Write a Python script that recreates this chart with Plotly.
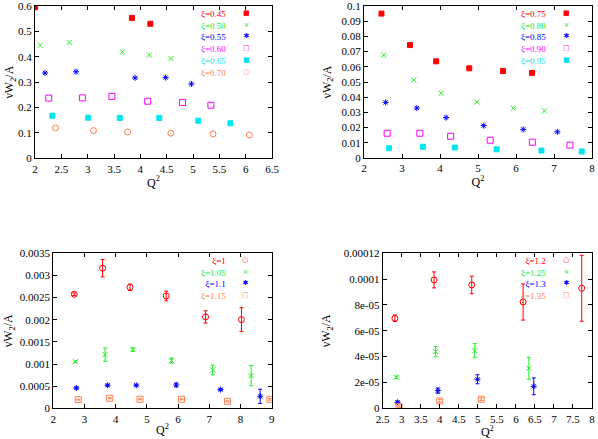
import plotly.graph_objects as go

W, H = 598, 439

# ---------------- data ----------------
# Panel 1 (top-left)
p1_labels = ["ξ=0.45", "ξ=0.50", "ξ=0.55", "ξ=0.60", "ξ=0.65", "ξ=0.70"]
p1_q2 = [
    [2.00, 3.84, 4.19],
    [2.10, 2.65, 3.66, 4.17, 4.58],
    [2.19, 2.78, 3.90, 4.48, 4.97],
    [2.26, 2.90, 3.46, 4.14, 4.80, 5.34],
    [2.33, 3.01, 3.61, 4.36, 5.10, 5.71],
    [2.39, 3.11, 3.76, 4.58, 5.38, 6.07],
]
p1_val = [
    [0.595, 0.553, 0.530],
    [0.445, 0.456, 0.420, 0.407, 0.393],
    [0.336, 0.341, 0.317, 0.318, 0.293],
    [0.237, 0.238, 0.244, 0.225, 0.220, 0.209],
    [0.168, 0.160, 0.159, 0.159, 0.148, 0.138],
    [0.120, 0.109, 0.104, 0.099, 0.096, 0.092],
]

# Panel 2 (top-right)
p2_labels = ["ξ=0.75", "ξ=0.80", "ξ=0.85", "ξ=0.90", "ξ=0.95"]
p2_q2 = [
    [2.46, 3.21, 3.90, 4.77, 5.66, 6.42],
    [2.52, 3.31, 4.03, 4.97, 5.93, 6.75],
    [2.57, 3.39, 4.16, 5.15, 6.19, 7.09],
    [2.61, 3.47, 4.28, 5.32, 6.43, 7.42],
    [2.66, 3.55, 4.39, 5.49, 6.67, 7.73],
]
p2_val = [
    [0.0950, 0.0743, 0.0636, 0.0590, 0.0572, 0.0560],
    [0.0677, 0.0513, 0.0426, 0.0368, 0.0327, 0.0311],
    [0.0366, 0.0328, 0.0266, 0.0213, 0.0188, 0.0172],
    [0.0163, 0.0163, 0.0143, 0.0117, 0.0104, 0.0085],
    [0.0064, 0.0074, 0.0069, 0.0057, 0.0049, 0.0043],
]

# Panel 3 (bottom-left)
p3_labels = ["ξ=1", "ξ=1.05", "ξ=1.1", "ξ=1.15"]
p3_q2 = [
    [2.67, 3.58, 4.46, 5.62, 6.88, 8.03],
    [2.71, 3.66, 4.55, 5.79, 7.11, 8.34],
    [2.74, 3.74, 4.66, 5.94, 7.36, 8.63],
    [2.80, 3.81, 4.78, 6.11, 7.58, 8.94],
]
p3_val = [
    [0.002575, 0.003163, 0.002733, 0.002537, 0.002063, 0.002003],
    [0.001054, 0.001212, 0.001325, 0.001077, 0.000866, 0.000738],
    [0.000459, 0.000520, 0.000520, 0.000527, 0.000422, 0.000271],
    [0.000196, 0.000226, 0.000203, 0.000203, 0.000158, 0.000203],
]
p3_err = [
    [0.00003, 0.000196, 0.00007, 0.00011, 0.00014, 0.00027],
    [0.00002, 0.00015, 0.00004, 0.00006, 0.00011, 0.00023],
    [0.00002, 0.00002, 0.00002, 0.00004, 0.00002, 0.00016],
    [0.00001, 0.00001, 0.00001, 0.00001, 0.00001, 0.00002],
]

# Panel 4 (bottom-right)
p4_labels = ["ξ=1.2", "ξ=1.25", "ξ=1.3", "ξ=1.35"]
p4_q2 = [
    [2.82, 3.85, 4.84, 6.19, 7.73],
    [2.86, 3.89, 4.92, 6.34],
    [2.89, 3.95, 4.99, 6.47],
    [2.93, 4.00, 5.09],
]
p4_val = [
    [6.97e-5, 9.94e-5, 9.55e-5, 8.23e-5, 9.29e-5],
    [2.40e-5, 4.39e-5, 4.46e-5, 3.10e-5],
    [0.46e-5, 1.37e-5, 2.25e-5, 1.70e-5],
    [0.13e-5, 0.57e-5, 0.70e-5],
]
p4_err = [
    [0.25e-5, 0.62e-5, 0.68e-5, 1.40e-5, 2.55e-5],
    [0.10e-5, 0.40e-5, 0.55e-5, 0.85e-5],
    [0.10e-5, 0.20e-5, 0.35e-5, 0.65e-5],
    [0.05e-5, 0.10e-5, 0.10e-5],
]

# tick labels
p2_xticks = [2, 3, 4, 5, 6, 7, 8]
p2_xticktext = ["2", "3", "4", "5", "6", "7", "8"]
p4_xticks = [2.5, 3, 3.5, 4, 4.5, 5, 5.5, 6, 6.5, 7, 7.5, 8]
p4_xticktext = ["2.5", "3", "3.5", "4", "4.5", "5", "5.5", "6", "6.5", "7", "7.5", "8"]
p4_yticks = [0, 2e-5, 4e-5, 6e-5, 8e-5, 1e-4, 1.2e-4]
p4_yticktext = ["0", "2e-05", "4e-05", "6e-05", "8e-05", "0.0001", "0.00012"]
p3_yticks = [0, 0.0005, 0.001, 0.0015, 0.002, 0.0025, 0.003, 0.0035]
p3_yticktext = ["0", "0.0005", "0.001", "0.0015", "0.002", "0.0025", "0.003", "0.0035"]

# ---------------- styles ----------------
RED, GREEN, BLUE, MAG, CYAN, CORAL = "#ff0000", "#22ee22", "#0000ff", "#ff00ff", "#00e5ee", "#ff7f50"
SERIF = "Liberation Serif, Times New Roman, serif"

STY = {
    "sq": dict(symbol="square", glyph="■", size=5),
    "x": dict(symbol="x-thin-open", glyph="×", size=5),
    "ast": dict(symbol="asterisk-open", glyph="✱", size=5),
    "osq": dict(symbol="square-open", glyph="□", size=6),
    "oc": dict(symbol="circle-open", glyph="○", size=6),
}

p1_style = [(RED, "sq"), (GREEN, "x"), (BLUE, "ast"), (MAG, "osq"), (CYAN, "sq"), (CORAL, "oc")]
p2_style = [(RED, "sq"), (GREEN, "x"), (BLUE, "ast"), (MAG, "osq"), (CYAN, "sq")]
p3_style = [(RED, "oc"), (GREEN, "x"), (BLUE, "ast"), (CORAL, "osq")]
p4_style = [(RED, "oc"), (GREEN, "x"), (BLUE, "ast"), (CORAL, "osq")]

def px(x):
    return x / W

def py(y):
    return 1 - y / H

# plot-area boxes in pixels: (left, top, right, bottom)
boxes = [
    (35, 6, 272, 158.3),
    (364, 6, 592, 158),
    (53.3, 253.3, 271.7, 408.3),
    (382.7, 253.3, 592, 408.3),
]

fig = go.Figure()

panels = [
    (p1_labels, p1_q2, p1_val, None, p1_style),
    (p2_labels, p2_q2, p2_val, None, p2_style),
    (p3_labels, p3_q2, p3_val, p3_err, p3_style),
    (p4_labels, p4_q2, p4_val, p4_err, p4_style),
]

LEG_FS = 9
annotations = []
for i, (labels, xs, ys, errs, styles) in enumerate(panels):
    ax = "" if i == 0 else str(i + 1)
    for j, lab in enumerate(labels):
        color, sk = styles[j]
        kw = {}
        if errs is not None:
            kw["error_y"] = dict(type="data", array=errs[j], visible=True,
                                 color=color, thickness=1, width=2)
        fig.add_trace(go.Scatter(
            x=xs[j], y=ys[j], mode="markers", name=lab,
            xaxis="x" + ax, yaxis="y" + ax, showlegend=False, hoverinfo="skip",
            marker=dict(symbol=STY[sk]["symbol"], size=STY[sk]["size"], color=color,
                        line=dict(color=color, width=1)),
            **kw))
    # legend (gnuplot style: text right-aligned, symbol to the right)
    left, top, right, bottom = boxes[i]
    txt = "<br>".join(f'<span style="color:{styles[j][0]}">{lab}</span>'
                      for j, lab in enumerate(labels))
    gly = "<br>".join(f'<span style="color:{styles[j][0]};font-size:7px">{STY[styles[j][1]]["glyph"]}</span>'
                      for j, lab in enumerate(labels))
    annotations.append(dict(
        text=txt, x=px(right - 44), y=py(top + 0.5), xref="paper", yref="paper",
        xanchor="right", yanchor="top", align="right", showarrow=False,
        font=dict(family=SERIF, size=LEG_FS, color="black")))
    annotations.append(dict(
        text=gly, x=px(right - 26), y=py(top + 0.5), xref="paper", yref="paper",
        xanchor="center", yanchor="top", align="center", showarrow=False,
        font=dict(family="DejaVu Sans", size=LEG_FS, color="black")))

axis_common = dict(showline=True, linecolor="black", linewidth=1, mirror="ticks",
                   ticks="inside", ticklen=4, tickcolor="black", showgrid=False,
                   zeroline=False, ticklabeloverflow="allow", automargin=False,
                   tickfont=dict(family=SERIF, size=11, color="black"))

xcfg = [
    dict(range=[2, 6.5], dtick=0.5, tick0=2),
    dict(range=[2, 8], tickmode="array", tickvals=p2_xticks, ticktext=p2_xticktext),
    dict(range=[2, 9], dtick=1, tick0=2),
    dict(range=[2.5, 8], tickmode="array", tickvals=p4_xticks, ticktext=p4_xticktext),
]
ycfg = [
    dict(range=[0, 0.6], dtick=0.1, tick0=0),
    dict(range=[0, 0.1], dtick=0.01, tick0=0),
    dict(range=[0, 0.0035], tickmode="array", tickvals=p3_yticks, ticktext=p3_yticktext),
    dict(range=[0, 0.00012], tickmode="array", tickvals=p4_yticks, ticktext=p4_yticktext),
]
ystandoff = [1, 7, 4, 10]

layout = dict(width=W, height=H, autosize=False, margin=dict(l=0, r=0, t=0, b=0),
              paper_bgcolor="white", plot_bgcolor="white", showlegend=False,
              hovermode=False, annotations=annotations)
for i in range(4):
    ax = "" if i == 0 else str(i + 1)
    left, top, right, bottom = boxes[i]
    layout["xaxis" + ax] = dict(
        domain=[px(left), px(right)], anchor="y" + ax,
        title=dict(text="Q<sup>2</sup>", font=dict(family=SERIF, size=12, color="black"), standoff=2),
        **xcfg[i], **axis_common)
    layout["yaxis" + ax] = dict(
        domain=[py(bottom), py(top)], anchor="x" + ax,
        title=dict(text="νW<sub>2</sub>/A", font=dict(family=SERIF, size=12, color="black"),
                   standoff=ystandoff[i]),
        **ycfg[i], **axis_common)

fig.update_layout(**layout)
fig.write_html("out.html", config={"displayModeBar": False, "staticPlot": True},
               post_script="document.body.style.margin='0px';document.body.style.overflow='hidden';")
